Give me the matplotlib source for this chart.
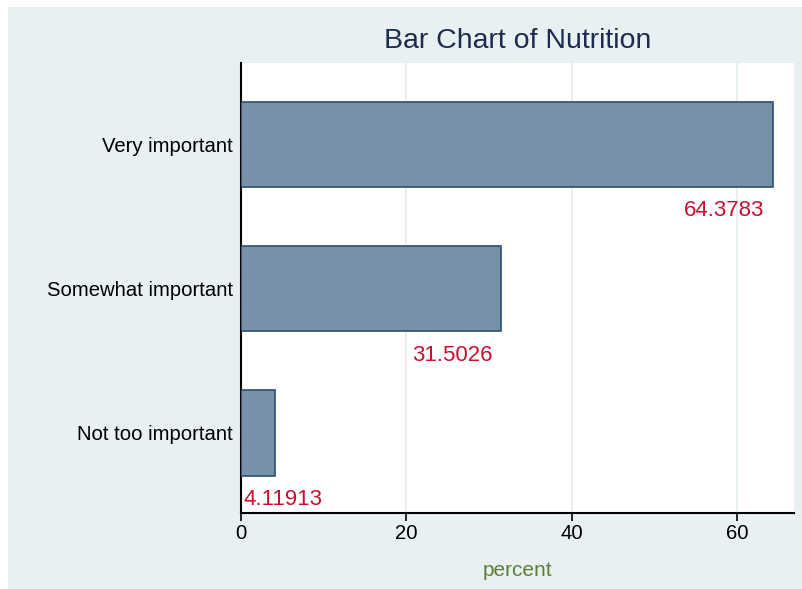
import matplotlib.pyplot as plt
from matplotlib.patches import Rectangle

# data
categories = ['Very important', 'Somewhat important', 'Not too important']
percents = [64.3783, 31.5026, 4.11913]
labels = ['64.3783', '31.5026', '4.11913']
xticks = [0, 20, 40, 60]

plt.rcParams['font.family'] = ['Liberation Sans', 'DejaVu Sans']

W, H = 802, 589
fig = plt.figure(figsize=(W / 100, H / 100), dpi=100)
fig.patch.set_facecolor('white')
# stata-like light blue background, white strip on top and left
fig.patches.append(Rectangle((8 / W, 0), 1, 1 - 7 / H, transform=fig.transFigure,
                             facecolor='#e8f0f2', edgecolor='none', zorder=-10))

left, right, top, bottom = 241, 794, 63, 513
ax = fig.add_axes([left / W, 1 - bottom / H, (right - left) / W, (bottom - top) / H])
ax.set_facecolor('white')

ypos = list(range(len(categories)))
ax.barh(ypos, percents, height=0.59, color='#7891aa', edgecolor='#2c4e6e',
        linewidth=1.2, zorder=3)

for y, v, s in zip(ypos, percents, labels):
    if v > 10:
        ax.text(v - 1.1, y + 0.46, s, ha='right', va='center', color='#c8102e',
                fontsize=16, zorder=4)
    else:
        ax.text(0.3, y + 0.46, s, ha='left', va='center', color='#c8102e',
                fontsize=16, zorder=4)

ax.set_ylim(len(categories) - 0.445, -0.565)
ax.set_xlim(0, 66.9)
ax.set_yticks(ypos)
ax.set_yticklabels(categories, fontsize=14.6)
ax.set_xticks(xticks)
ax.set_xticklabels([str(t) for t in xticks], fontsize=14.6)
ax.tick_params(axis='y', length=0, pad=6)
ax.tick_params(axis='x', length=6, width=1.2, pad=2)
ax.xaxis.grid(True, color='#e6eef0', linewidth=1.3, zorder=0)
ax.set_axisbelow(True)

for s in ['top', 'right']:
    ax.spines[s].set_visible(False)
for s in ['left', 'bottom']:
    ax.spines[s].set_linewidth(1.5)
    ax.spines[s].set_color('black')

ax.set_xlabel('percent', color='#5b7f35', fontsize=15, labelpad=13)
fig.text((left + right) / 2 / W, 1 - 41 / H, 'Bar Chart of Nutrition',
         ha='center', va='center', fontsize=20.5, color='#1c2b4f')

fig.savefig('out.png', dpi=100)
